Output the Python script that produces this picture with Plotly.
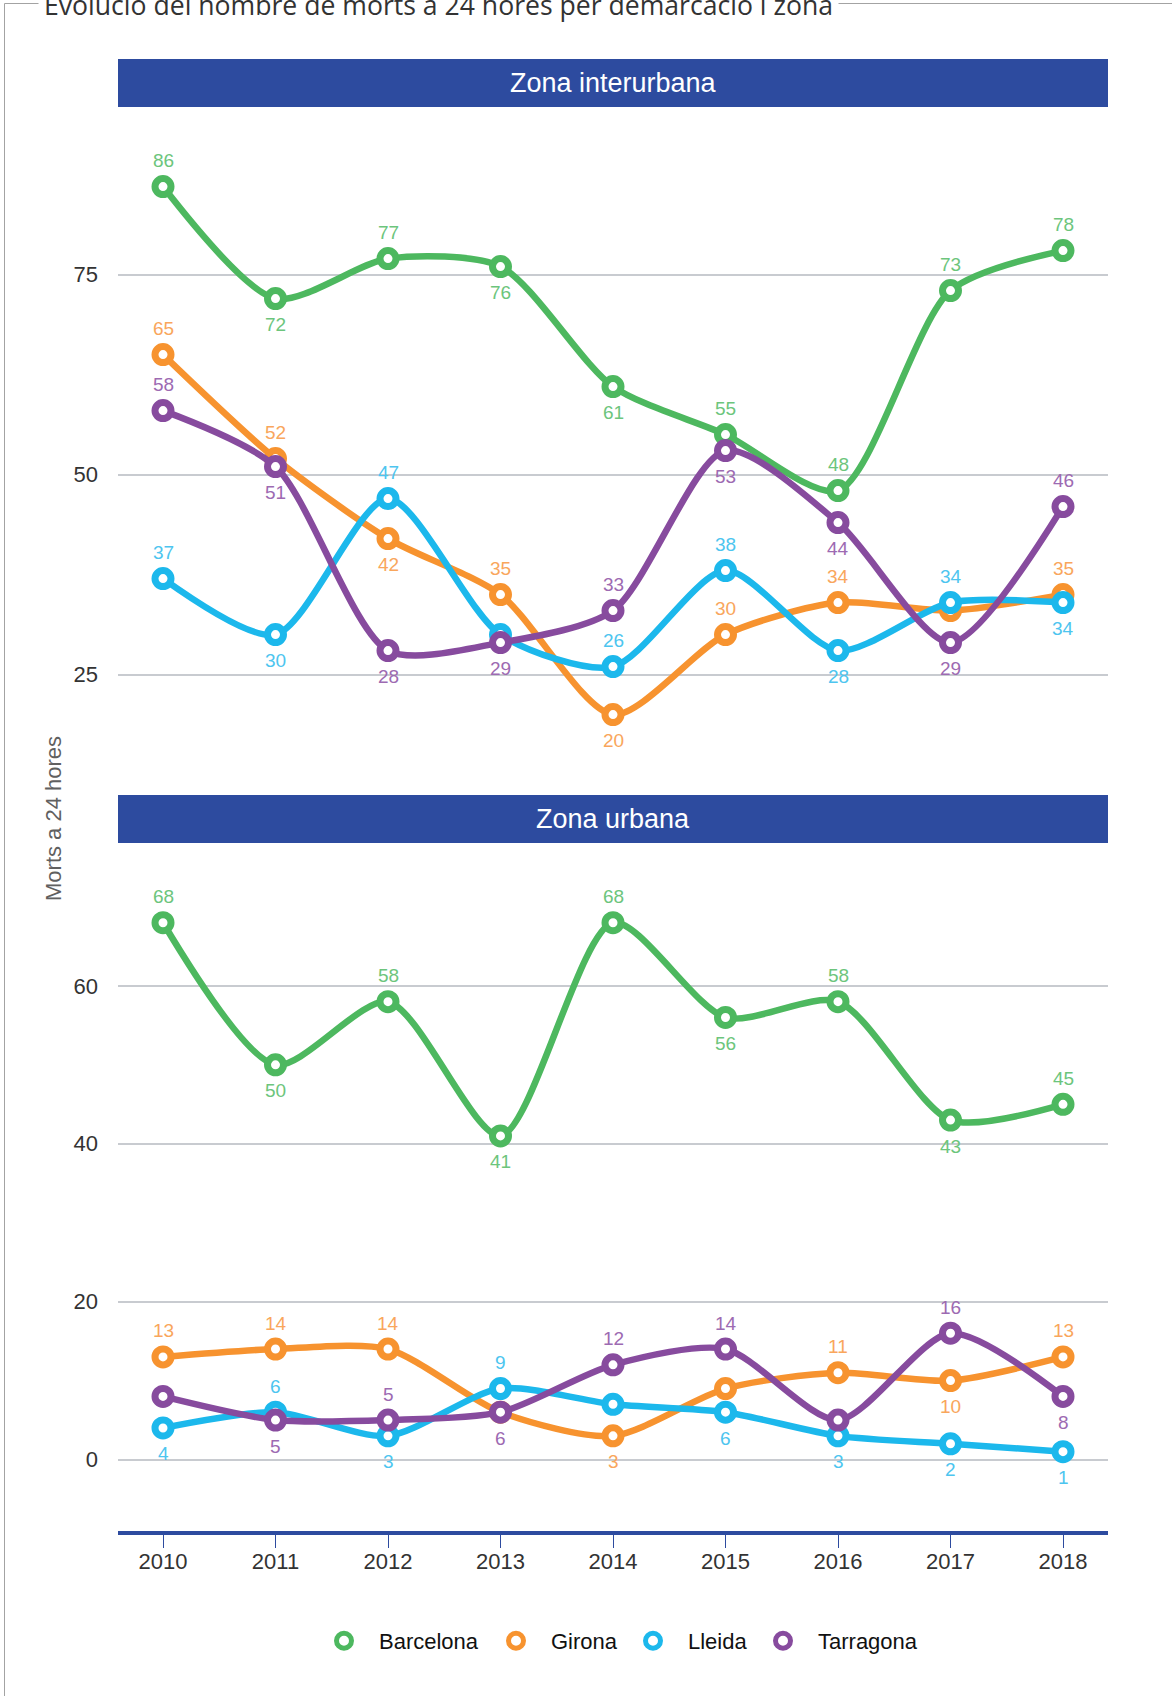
import plotly.graph_objects as go

W, H = 1172, 1696

# ---- data ---------------------------------------------------------------
years = [2010, 2011, 2012, 2013, 2014, 2015, 2016, 2017, 2018]
year_labels = [str(y) for y in years]
series_names = ["Barcelona", "Girona", "Lleida", "Tarragona"]

interurbana_barcelona = [86, 72, 77, 76, 61, 55, 48, 73, 78]
interurbana_girona = [65, 52, 42, 35, 20, 30, 34, 33, 35]
interurbana_lleida = [37, 30, 47, 30, 26, 38, 28, 34, 34]
interurbana_tarragona = [58, 51, 28, 29, 33, 53, 44, 29, 46]

urbana_barcelona = [68, 50, 58, 41, 68, 56, 58, 43, 45]
urbana_girona = [13, 14, 14, 6, 3, 9, 11, 10, 13]
urbana_lleida = [4, 6, 3, 9, 7, 6, 3, 2, 1]
urbana_tarragona = [8, 5, 5, 6, 12, 14, 5, 16, 8]

# where each value label sits: u = above, d = below, - = not shown
interurbana_label_side = [
    "ududduuuu",
    "uududuu-u",
    "udu-uudud",
    "udddudddu",
]
urbana_label_side = [
    "ududududu",
    "uuu-d-udu",
    "dudu-dddd",
    "-duduu-ud",
]

# ---- styling ------------------------------------------------------------
line_colors = ["#4DB85F", "#F7932F", "#1CB8EC", "#874B9E"]
label_colors = ["#6CC57C", "#F9A65C", "#4DC5EF", "#9D6AB2"]
band_color = "#2D4B9F"
grid_color = "#C8CBD0"
sans = "Liberation Sans, Arial, sans-serif"


def px_x(px):
    return px / W


def px_y(py):
    return 1 - py / H


interurbana = [interurbana_barcelona, interurbana_girona,
               interurbana_lleida, interurbana_tarragona]
urbana = [urbana_barcelona, urbana_girona, urbana_lleida, urbana_tarragona]

fig = go.Figure()
annotations = []

panels = [("y2", interurbana, interurbana_label_side),
          ("y", urbana, urbana_label_side)]

for yref, values_list, sides_list in panels:
    for name, vals, sides, lc, tc in zip(series_names, values_list, sides_list,
                                         line_colors, label_colors):
        fig.add_trace(go.Scatter(
            x=years, y=vals, xaxis="x", yaxis=yref, name=name,
            mode="lines+markers", showlegend=False, cliponaxis=False,
            line=dict(color=lc, width=6.5, shape="spline", smoothing=0.75),
            marker=dict(symbol="circle", size=16, color="white",
                        line=dict(color=lc, width=7)),
            hoverinfo="skip",
        ))
        for yr, v, s in zip(years, vals, sides):
            if s == "-":
                continue
            annotations.append(dict(
                x=yr, y=v, xref="x", yref=yref, text=str(v), showarrow=False,
                xanchor="center", yanchor="middle",
                yshift=26 if s == "u" else -26,
                font=dict(family=sans, size=19, color=tc),
            ))

# legend entries: ring markers only, one legend box per series
legend_x = [344, 516, 653, 783]
for i, (name, lc) in enumerate(zip(series_names, line_colors)):
    key = "legend" if i == 0 else f"legend{i + 1}"
    fig.add_trace(go.Scatter(
        x=[None], y=[None], xaxis="x", yaxis="y", name=name, mode="markers",
        legend=key, showlegend=True,
        marker=dict(symbol="circle", size=15, color="white",
                    line=dict(color=lc, width=7)),
    ))

legend_common = dict(orientation="h", yanchor="middle", xanchor="left",
                     y=px_y(1641), itemwidth=60, bgcolor="rgba(0,0,0,0)",
                     font=dict(family=sans, size=22, color="#111111"))
layout_legends = {}
for i, lx in enumerate(legend_x):
    key = "legend" if i == 0 else f"legend{i + 1}"
    layout_legends[key] = dict(legend_common, x=px_x(lx - 35))

# panel header bands and outer frame
shapes = [
    dict(type="rect", xref="paper", yref="paper",
         x0=px_x(4.5), x1=1.05, y0=-0.05, y1=px_y(3.5),
         line=dict(color="#A3A3A3", width=1), fillcolor="rgba(0,0,0,0)",
         layer="below"),
    dict(type="rect", xref="paper", yref="paper",
         x0=px_x(118), x1=px_x(1108), y0=px_y(107), y1=px_y(59),
         line=dict(width=0), fillcolor=band_color, layer="above"),
    dict(type="rect", xref="paper", yref="paper",
         x0=px_x(118), x1=px_x(1108), y0=px_y(843), y1=px_y(795),
         line=dict(width=0), fillcolor=band_color, layer="above"),
]

annotations += [
    dict(text="Zona interurbana", x=px_x(613), y=px_y(83), xref="paper",
         yref="paper", showarrow=False, xanchor="center", yanchor="middle",
         font=dict(family=sans, size=27, color="white")),
    dict(text="Zona urbana", x=px_x(613), y=px_y(819), xref="paper",
         yref="paper", showarrow=False, xanchor="center", yanchor="middle",
         font=dict(family=sans, size=27, color="white")),
    dict(text="Morts a 24 hores", x=px_x(54), y=px_y(819), xref="paper",
         yref="paper", showarrow=False, textangle=-90, xanchor="center",
         yanchor="middle", font=dict(family=sans, size=22, color="#606060")),
    dict(text="Evolució del nombre de morts a 24 hores per demarcació i zona",
         x=px_x(38), y=px_y(5), xref="paper", yref="paper", showarrow=False,
         xanchor="left", yanchor="middle", bgcolor="white", borderpad=5,
         font=dict(family="Open Sans, sans-serif", size=26.6,
                   color="#333333")),
]

yaxis_common = dict(showgrid=True, gridcolor=grid_color, gridwidth=2,
                    zeroline=False, showline=False, ticks="",
                    tickfont=dict(family=sans, size=22, color="#333333"),
                    ticklabelstandoff=19, fixedrange=True, automargin=False)

fig.update_layout(
    width=W, height=H,
    margin=dict(l=0, r=0, t=0, b=0),
    paper_bgcolor="white", plot_bgcolor="white",
    hovermode=False,
    xaxis=dict(domain=[px_x(118), px_x(1108)], range=[2009.6, 2018.4],
               anchor="y", tickmode="array", tickvals=years,
               ticktext=year_labels, ticks="outside", ticklen=13,
               tickwidth=1, tickcolor=band_color, showline=True,
               linecolor=band_color, linewidth=4, showgrid=False,
               zeroline=False, fixedrange=True, automargin=False,
               ticklabelstandoff=-5,
               tickfont=dict(family=sans, size=22, color="#333333")),
    yaxis=dict(yaxis_common, domain=[px_y(1531), px_y(843)],
               range=[-9.05, 78.1], tick0=0, dtick=20, anchor="x"),
    yaxis2=dict(yaxis_common, domain=[px_y(795), px_y(107)],
                range=[9.95, 95.95], tick0=0, dtick=25, anchor="x"),
    shapes=shapes,
    annotations=annotations,
    **layout_legends,
)

fig.write_html("out.html")
